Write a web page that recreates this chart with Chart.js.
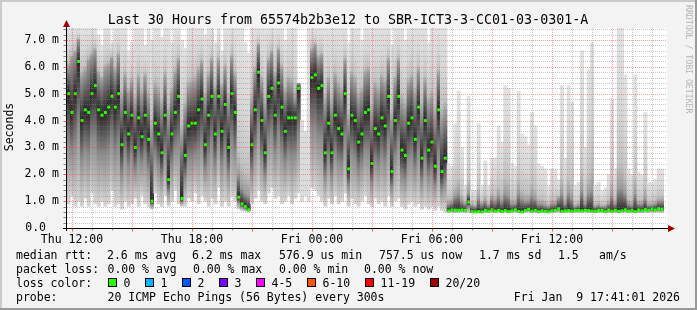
<!DOCTYPE html>
<html>
<head>
<meta charset="utf-8">
<script src="https://cdn.jsdelivr.net/npm/chart.js@4.4.1/dist/chart.umd.min.js"></script>
<style>
  html, body { margin: 0; padding: 0; background: #f3f3f3; overflow: hidden; }
  canvas { display: block; }
</style>
</head>
<body>
<canvas id="chart" width="697" height="310"></canvas>
<script>
// 10 minute bins, first bin starts Thu 11:45 (hours counted from Thu 00:00)
const startHour = 11.75;
const stepHours = 1 / 6;

// median rtt in ms (null = no median drawn)
const medianRtt = [
    5.0,4.3,5.0,6.2,4.0,4.4,4.3,5.0,5.3,4.4,
    4.2,4.3,4.5,4.9,4.5,5.0,3.1,4.3,3.5,4.2,
    3.0,4.1,3.4,4.2,3.3,1.0,3.9,3.5,2.8,4.2,
    1.8,3.5,4.3,4.9,1.1,2.7,3.8,3.9,3.9,4.4,
    4.8,3.1,4.2,4.9,3.5,4.9,3.6,4.6,3.0,5.0,
    4.3,1.15,0.9,0.8,0.68,3.1,4.4,5.8,4.0,2.8,
    4.9,5.2,4.2,5.4,4.5,3.6,4.1,4.1,4.1,5.2,
    null,null,null,5.6,5.7,5.2,5.3,2.8,3.9,2.8,
    4.2,3.7,3.5,5.0,2.2,4.2,4.0,3.2,3.5,4.3,
    4.4,2.4,3.7,3.5,4.1,3.8,4.9,2.1,4.0,4.9,
    2.9,2.7,3.9,4.1,3.3,4.5,2.6,4.0,2.9,3.2,
    2.3,4.4,2.1,2.6,
    // Fri ~06:40 onwards
    0.63,0.67,0.67,0.66,0.67,0.66,0.97,0.61,0.60,0.61,
    0.60,0.66,0.62,0.68,0.63,0.66,0.62,0.65,0.61,0.64,
    0.68,0.62,0.60,0.65,0.70,0.63,0.66,0.61,0.64,0.62,
    0.60,0.64,0.66,0.72,0.62,0.64,0.65,0.63,0.65,0.65,
    0.64,0.66,0.65,0.63,0.62,0.66,0.65,0.61,0.67,0.63,
    0.66,0.62,0.64,0.68,0.63,0.65,0.61,0.67,0.64,0.69,
    0.66,0.71,0.67,0.72,0.70
];

// top of the dense part of the smoke (ms)
const smokeUpper = [
    6.0,6.3,6.5,7.0,5.6,5.8,6.2,6.4,6.6,5.7,
    5.5,5.9,6.0,6.3,5.8,6.4,4.8,5.6,5.0,5.4,
    4.6,5.5,4.9,5.6,4.8,3.6,5.2,5.0,4.5,5.6,
    4.2,5.0,5.7,6.2,3.4,4.4,5.2,5.3,5.4,5.8,
    6.1,4.8,5.6,6.2,5.1,6.2,5.2,5.9,4.7,6.3,
    5.6,2.0,1.5,1.3,1.2,4.6,5.8,6.8,5.4,4.5,
    6.2,6.5,5.6,6.6,5.9,5.0,5.4,5.3,4.8,5.4,
    null,null,null,6.6,6.8,6.3,6.4,4.6,5.4,4.5,
    5.6,5.2,5.0,6.2,4.0,5.6,5.4,4.8,5.0,5.7,
    5.8,4.2,5.2,5.0,5.5,5.3,6.2,4.0,5.4,6.2,
    4.6,4.4,5.3,5.5,4.9,5.8,4.3,5.4,4.6,4.8,
    4.1,5.7,4.0,4.3,
    0.9,0.95,1.2,1.3,1.0,0.9,1.3,0.85,0.8,1.1,
    0.9,1.0,0.85,1.1,1.0,1.2,1.0,1.3,1.2,0.9,
    0.9,1.3,1.1,1.0,1.0,1.2,1.1,0.9,0.9,0.85,
    0.8,0.9,0.9,1.1,1.3,0.9,1.3,1.1,0.8,0.85,
    1.4,0.9,1.3,1.4,0.8,0.85,0.8,0.8,0.9,1.2,
    0.9,1.5,1.5,1.3,0.9,0.85,1.3,0.9,0.9,1.1,
    0.85,0.85,0.9,1.0,1.0
];

// fastest ping of the bin (ms)
const smokeLow = [
    0.9,1.2,0.8,1.0,0.8,1.1,0.8,1.3,0.9,0.8,
    1.0,0.8,0.9,1.4,0.8,0.9,0.7,1.0,0.8,0.9,
    1.1,0.8,1.2,0.9,0.8,0.7,1.3,0.9,0.8,1.2,
    0.8,1.0,1.4,0.9,0.8,0.8,1.1,1.0,1.3,0.9,
    1.2,1.0,0.8,1.1,0.9,1.5,0.8,1.0,0.8,1.2,
    1.0,0.7,0.65,0.62,0.6,0.9,1.1,1.4,1.0,0.9,
    1.3,1.5,1.1,1.2,0.9,1.0,1.2,0.9,1.1,1.3,
    1.0,1.2,1.0,1.5,1.4,1.2,1.0,0.8,1.1,0.9,
    1.2,0.9,1.0,1.3,0.8,1.1,0.9,0.8,1.0,1.2,
    0.9,0.8,1.1,0.9,1.0,0.8,1.2,0.8,1.0,1.1,
    0.8,0.7,0.9,1.0,0.8,0.9,0.7,0.8,0.7,0.8,
    0.65,0.8,0.65,0.6,
    0.58,0.58,0.57,0.57,0.58,0.57,0.57,0.56,0.56,0.57,
    0.56,0.57,0.57,0.58,0.57,0.57,0.56,0.57,0.56,0.57,
    0.58,0.57,0.56,0.57,0.58,0.57,0.57,0.56,0.57,0.57,
    0.56,0.57,0.57,0.58,0.57,0.57,0.57,0.57,0.57,0.57,
    0.57,0.58,0.57,0.57,0.56,0.57,0.57,0.56,0.57,0.57,
    0.57,0.56,0.57,0.58,0.57,0.57,0.56,0.57,0.57,0.58,
    0.57,0.58,0.58,0.58,0.58
];

// slowest ping of the bin (ms), values above 7.45 are cut by the graph
const smokeHigh = [
    7.5,7.5,7.5,7.5,7.5,7.5,7.5,7.5,7.5,7.2,
    6.8,7.5,7.5,6.9,7.5,7.5,7.5,7.5,6.6,6.9,
    7.5,7.5,7.5,6.8,7.5,7.0,7.5,7.5,7.1,7.5,
    7.5,6.9,7.5,7.5,7.0,6.7,7.5,7.5,7.5,7.5,
    7.5,7.2,7.5,7.5,6.9,7.5,6.6,7.5,7.5,7.5,
    7.5,7.5,7.5,6.9,6.5,7.5,7.5,7.5,7.5,7.5,
    7.5,7.5,7.5,7.5,7.5,7.0,7.5,7.5,7.5,5.4,
    4.0,3.6,7.5,7.5,7.5,7.5,7.5,7.5,7.5,7.5,
    7.5,7.5,7.5,7.5,6.9,7.5,7.5,7.5,7.0,7.5,
    7.5,7.5,7.5,7.5,7.5,7.5,7.5,6.8,7.5,7.5,
    7.5,7.0,7.5,7.5,7.5,7.5,7.5,7.5,6.9,7.5,
    7.5,7.5,7.5,7.5,
    2.4,2.3,3.9,5.1,3.0,1.6,4.9,1.4,1.4,3.9,
    1.6,2.5,1.6,2.6,2.6,3.8,3.2,5.3,5.2,2.4,
    2.3,5.1,3.5,3.4,3.1,4.3,3.8,2.4,2.3,2.2,
    1.6,2.2,2.2,1.8,5.3,2.6,5.3,4.7,1.6,1.7,
    6.6,3.0,5.9,6.9,1.6,1.7,1.4,1.5,2.0,4.8,
    2.2,7.5,7.5,5.7,2.2,2.0,5.7,2.1,2.0,4.3,
    1.7,1.7,1.8,2.2,2.2
];

const xTickHours = [12, 18, 24, 30, 36];
const xTickLabels = ['Thu 12:00', 'Thu 18:00', 'Fri 00:00', 'Fri 06:00', 'Fri 12:00'];
const yTickValues = [0, 1, 2, 3, 4, 5, 6, 7];

const titleText = 'Last 30 Hours from 65574b2b3e12 to SBR-ICT3-3-CC01-03-0301-A';

const rttLegend = [
    [16, 'median rtt:'], [107, '2.6 ms avg'], [192, '6.2 ms max'], [279, '576.9 us min'],
    [379, '757.5 us now'], [479, '1.7 ms sd'], [558, '1.5'], [599, 'am/s']
];
const lossLegend = [
    [16, 'packet loss:'], [107.5, '0.00 % avg'], [193, '0.00 % max'], [279, '0.00 % min'], [364, '0.00 % now']
];
const lossColors = [
    [108, '#26ff00', '0'], [145, '#00b8ff', '1'], [182, '#0059ff', '2'], [219, '#7e00ff', '3'],
    [256, '#ff00ff', '4-5'], [307, '#ff5500', '6-10'], [365, '#ff0000', '11-19'], [430, '#a00000', '20/20']
];
const probeText = '20 ICMP Echo Pings (56 Bytes) every 300s';
const dateText = 'Fri Jan  9 17:41:01 2026';

const binTimes = medianRtt.map((_, i) => startHour + (i + 0.5) * stepHours);

const MONO = '"DejaVu Sans Mono", monospace';

// smoke colour: dark around the median, fading to light grey to the outer pings
function smokeFill(ctx) {
    if (ctx.type !== 'data') return '#d8d8d8';
    const chart = ctx.chart;
    const y = chart.scales.y;
    const i = ctx.dataIndex;
    const med = medianRtt[i];
    if (!y || med == null || smokeUpper[i] == null) return '#dcdcdc';
    const top = y.getPixelForValue(smokeHigh[i]);
    const bot = y.getPixelForValue(smokeLow[i]);
    const span = bot - top;
    if (!isFinite(top) || !isFinite(bot) || span <= 0) return '#888888';
    const pos = v => Math.min(1, Math.max(0, (y.getPixelForValue(v) - top) / span));
    const pUp = pos(smokeUpper[i]);
    const pMed = Math.max(pUp, pos(med));
    const g = chart.ctx.createLinearGradient(0, top, 0, bot);
    g.addColorStop(0, '#e2e2e2');
    g.addColorStop(pUp * 0.5, '#d6d6d6');
    g.addColorStop(pUp * 0.85, '#c2c2c2');
    g.addColorStop(pUp, '#9c9c9c');
    g.addColorStop(pMed, '#262626');
    g.addColorStop(pMed + (1 - pMed) * 0.45, '#8c8c8c');
    g.addColorStop(1, '#d6d6d6');
    return g;
}

function dotted(c, x1, y1, x2, y2, color) {
    c.strokeStyle = color;
    c.beginPath();
    c.moveTo(x1, y1);
    c.lineTo(x2, y2);
    c.stroke();
}

const rrdLook = {
    id: 'rrdLook',
    beforeDraw(chart) {
        const c = chart.ctx, a = chart.chartArea;
        c.save();
        c.fillStyle = '#f3f3f3';
        c.fillRect(0, 0, chart.width, chart.height);
        c.fillStyle = '#cbcbcb';
        c.fillRect(0, 0, chart.width, 2);
        c.fillRect(0, 0, 2, chart.height);
        c.fillStyle = '#999999';
        c.fillRect(0, chart.height - 2, chart.width, 2);
        c.fillRect(chart.width - 2, 0, 2, chart.height);
        c.fillStyle = '#ffffff';
        c.fillRect(a.left, a.top, a.right - a.left, a.bottom - a.top);
        c.restore();
    },
    afterDatasetsDraw(chart) {
        const c = chart.ctx, a = chart.chartArea;
        const xs = chart.scales.x, ys = chart.scales.y;
        c.save();
        c.lineWidth = 1;
        c.setLineDash([1, 1]);

        // minor grid
        for (let k = 1; k * 0.2 < ys.max; k++) {
            if (k % 5 === 0) continue;
            const py = Math.round(ys.getPixelForValue(k * 0.2)) + 0.5;
            dotted(c, a.left, py, a.right, py, 'rgba(128,128,128,0.45)');
        }
        for (let h = 12; h < xs.max; h++) {
            if (h % 3 === 0) continue;
            const px = Math.round(xs.getPixelForValue(h)) + 0.5;
            dotted(c, px, a.top, px, a.bottom, 'rgba(128,128,128,0.45)');
        }
        // major grid
        for (let v = 1; v < ys.max; v++) {
            const py = Math.round(ys.getPixelForValue(v)) + 0.5;
            dotted(c, a.left, py, a.right, py, 'rgba(255,40,40,0.45)');
        }
        for (let h = 12; h < xs.max; h += 3) {
            const px = Math.round(xs.getPixelForValue(h)) + 0.5;
            dotted(c, px, a.top, px, a.bottom, 'rgba(255,40,40,0.45)');
        }
        c.setLineDash([]);

        // axes
        const ax = a.left - 0.5, ay = a.bottom + 0.5;
        c.strokeStyle = '#000000';
        c.beginPath();
        c.moveTo(a.left - 4, ay); c.lineTo(a.right + 1, ay);
        c.moveTo(ax, a.bottom + 3); c.lineTo(ax, a.top - 1);
        c.stroke();
        // ticks
        for (let k = 1; k * 0.2 < ys.max; k++) {
            const py = Math.round(ys.getPixelForValue(k * 0.2)) + 0.5;
            c.strokeStyle = k % 5 === 0 ? 'rgba(255,40,40,0.8)' : 'rgba(80,80,80,0.7)';
            c.beginPath(); c.moveTo(ax - 3, py); c.lineTo(ax, py); c.stroke();
        }
        for (let h = 12; h < xs.max; h++) {
            const px = Math.round(xs.getPixelForValue(h)) + 0.5;
            const major = h % 3 === 0;
            c.strokeStyle = major ? 'rgba(255,40,40,0.8)' : 'rgba(80,80,80,0.6)';
            c.beginPath(); c.moveTo(px, ay); c.lineTo(px, ay + (major ? 3 : 2)); c.stroke();
        }
        // arrows
        c.fillStyle = '#a00000';
        c.beginPath();
        c.moveTo(a.right + 1, ay - 3.5); c.lineTo(a.right + 8, ay); c.lineTo(a.right + 1, ay + 3.5);
        c.closePath(); c.fill();
        c.beginPath();
        c.moveTo(ax - 3.5, a.top - 1); c.lineTo(ax, a.top - 8); c.lineTo(ax + 3.5, a.top - 1);
        c.closePath(); c.fill();

        // tick labels
        c.fillStyle = '#000000';
        c.font = '11.5px ' + MONO;
        c.textBaseline = 'middle';
        c.textAlign = 'right';
        yTickValues.forEach(v => {
            const py = ys.getPixelForValue(v);
            if (v === 0) c.fillText('0.0', 46, py);
            else c.fillText(v.toFixed(1) + ' m', 59, py);
        });
        c.textAlign = 'center';
        c.textBaseline = 'alphabetic';
        xTickHours.forEach((h, i) => {
            c.fillText(xTickLabels[i], xs.getPixelForValue(h), 242.5);
        });

        // axis title
        c.save();
        c.translate(10.5, 127);
        c.rotate(-Math.PI / 2);
        c.textBaseline = 'middle';
        c.fillText('Seconds', 0, 0);
        c.restore();

        // title
        c.font = '13.3px ' + MONO;
        c.fillText(titleText, 348, 23.8);

        // watermark
        c.save();
        c.translate(688, 5);
        c.rotate(Math.PI / 2);
        c.font = '8.2px ' + MONO;
        c.fillStyle = '#b4b4b4';
        c.textAlign = 'left';
        c.textBaseline = 'middle';
        c.fillText('RRDTOOL / TOBI OETIKER', 0, 0);
        c.restore();

        // legend
        c.font = '11.5px ' + MONO;
        c.textAlign = 'left';
        c.fillStyle = '#000000';
        rttLegend.forEach(([x, t]) => c.fillText(t, x, 258.5));
        lossLegend.forEach(([x, t]) => c.fillText(t, x, 272.5));
        c.fillText('loss color:', 16, 286.5);
        lossColors.forEach(([x, col, t]) => {
            c.fillStyle = col;
            c.fillRect(x, 278, 9, 9);
            c.strokeStyle = '#000000';
            c.strokeRect(x + 0.5, 278.5, 8, 8);
            c.fillStyle = '#000000';
            c.fillText(t, x + 15.5, 286.5);
        });
        c.fillText('probe:', 16, 300.5);
        c.fillText(probeText, 107.5, 300.5);
        c.textAlign = 'right';
        c.fillText(dateText, 680, 300.5);
        c.restore();
    }
};

new Chart(document.getElementById('chart'), {
    type: 'bar',
    data: {
        datasets: [{
            type: 'bar',
            label: 'smoke',
            data: binTimes.map((t, i) => ({ x: t, y: [smokeLow[i], smokeHigh[i]] })),
            backgroundColor: smokeFill,
            borderWidth: 0,
            barPercentage: 1,
            categoryPercentage: 1,
            clip: 0,
            order: 2
        }, {
            type: 'scatter',
            label: 'median rtt',
            data: binTimes.map((t, i) => ({ x: t, y: medianRtt[i] })),
            pointStyle: 'rect',
            pointRadius: 2.1,
            pointBorderWidth: 0,
            backgroundColor: '#26ff00',
            borderColor: '#26ff00',
            clip: 2,
            order: 1
        }]
    },
    options: {
        responsive: false,
        devicePixelRatio: 1,
        animation: false,
        events: [],
        layout: { padding: { left: 67, top: 28, right: 30, bottom: 82 } },
        plugins: { legend: { display: false }, tooltip: { enabled: false }, title: { display: false } },
        scales: {
            x: { type: 'linear', min: 11.75, max: 41.75, offset: false, display: false },
            y: { type: 'linear', min: 0, max: 200 / 26.857, display: false }
        }
    },
    plugins: [rrdLook]
});
</script>
</body>
</html>
